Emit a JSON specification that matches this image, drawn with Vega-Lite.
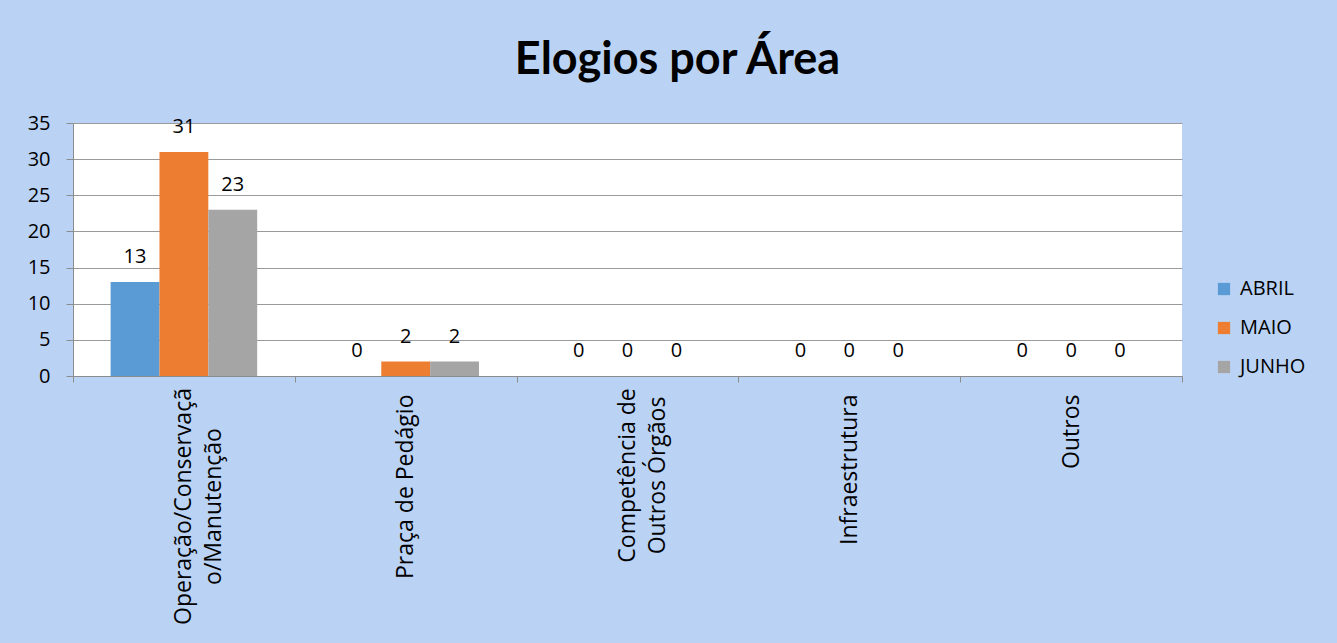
{
  "$schema": "https://vega.github.io/schema/vega-lite/v6.json",
  "width": 1109,
  "height": 253,
  "autosize": {"type": "none"},
  "padding": {"left": 73, "top": 123, "right": 155, "bottom": 267},
  "background": "#bad3f5",
  "title": {
    "text": "Elogios por Área",
    "font": "Lato",
    "fontSize": 45,
    "fontWeight": "bold",
    "color": "#000000",
    "anchor": "middle",
    "dx": 50,
    "offset": 30
  },
  "config": {
    "view": {"fill": "white", "stroke": null},
    "font": "Open Sans"
  },
  "data": {
    "values": [
      {"area": "Operação/Conservação/Manutenção", "mes": "ABRIL", "valor": 13},
      {"area": "Operação/Conservação/Manutenção", "mes": "MAIO", "valor": 31},
      {"area": "Operação/Conservação/Manutenção", "mes": "JUNHO", "valor": 23},
      {"area": "Praça de Pedágio", "mes": "ABRIL", "valor": 0},
      {"area": "Praça de Pedágio", "mes": "MAIO", "valor": 2},
      {"area": "Praça de Pedágio", "mes": "JUNHO", "valor": 2},
      {"area": "Competência de Outros Órgãos", "mes": "ABRIL", "valor": 0},
      {"area": "Competência de Outros Órgãos", "mes": "MAIO", "valor": 0},
      {"area": "Competência de Outros Órgãos", "mes": "JUNHO", "valor": 0},
      {"area": "Infraestrutura", "mes": "ABRIL", "valor": 0},
      {"area": "Infraestrutura", "mes": "MAIO", "valor": 0},
      {"area": "Infraestrutura", "mes": "JUNHO", "valor": 0},
      {"area": "Outros", "mes": "ABRIL", "valor": 0},
      {"area": "Outros", "mes": "MAIO", "valor": 0},
      {"area": "Outros", "mes": "JUNHO", "valor": 0}
    ]
  },
  "encoding": {
    "x": {
      "field": "area",
      "type": "nominal",
      "sort": null,
      "scale": {"paddingInner": 0, "paddingOuter": 0},
      "axis": {
        "title": null,
        "labelAngle": -90,
        "labelAlign": {"condition": {"test": "datum.value == 'Operação/Conservação/Manutenção' || datum.value == 'Competência de Outros Órgãos'", "value": "center"}, "value": "right"},
        "labelPadding": {"condition": [{"test": "datum.value == 'Operação/Conservação/Manutenção'", "value": 124}, {"test": "datum.value == 'Competência de Outros Órgãos'", "value": 93}], "value": 12},
        "labelBaseline": "middle",
        "labelFont": "Open Sans",
        "labelFontSize": 23,
        "labelLineHeight": 30,
        "labelColor": "#000000",
        "labelLimit": 0,
        "labelExpr": "datum.label == 'Operação/Conservação/Manutenção' ? ['Operação/Conservaçã', 'o/Manutenção'] : datum.label == 'Competência de Outros Órgãos' ? ['Competência de', 'Outros Órgãos'] : datum.label",
        "tickBand": "extent",
        "tickSize": 6,
        "tickColor": "#8c8c8c",
        "domainColor": "#8c8c8c"
      }
    },
    "xOffset": {
      "field": "mes",
      "type": "nominal",
      "sort": ["ABRIL", "MAIO", "JUNHO"],
      "scale": {"paddingInner": 0, "paddingOuter": 0.77}
    },
    "y": {
      "field": "valor",
      "type": "quantitative",
      "scale": {"domain": [0, 35]},
      "axis": {
        "title": null,
        "values": [0, 5, 10, 15, 20, 25, 30, 35],
        "labelFont": "Open Sans",
        "labelFontSize": 20,
        "labelColor": "#000000",
        "labelPadding": 16,
        "tickSize": 7,
        "tickColor": "#8c8c8c",
        "domainColor": "#8c8c8c",
        "gridColor": "#9a9a9a",
        "gridOpacity": 1
      }
    }
  },
  "layer": [
    {
      "mark": {"type": "bar"},
      "encoding": {
        "color": {
          "field": "mes",
          "type": "nominal",
          "scale": {"domain": ["ABRIL", "MAIO", "JUNHO"], "range": ["#5b9bd5", "#ed7d31", "#a5a5a5"]},
          "legend": {
            "title": null,
            "orient": "none",
            "legendX": 1141,
            "legendY": 156,
            "symbolType": "square",
            "symbolSize": 150,
            "symbolStrokeWidth": 0,
            "labelFont": "Open Sans",
            "labelFontSize": 20,
            "labelColor": "#000000",
            "rowPadding": 19,
            "labelOffset": 6
          }
        }
      }
    },
    {
      "mark": {"type": "text", "baseline": "alphabetic", "dy": -19, "fontSize": 20, "font": "Open Sans", "color": "#000000"},
      "encoding": {
        "text": {"field": "valor", "type": "quantitative"}
      }
    }
  ]
}
